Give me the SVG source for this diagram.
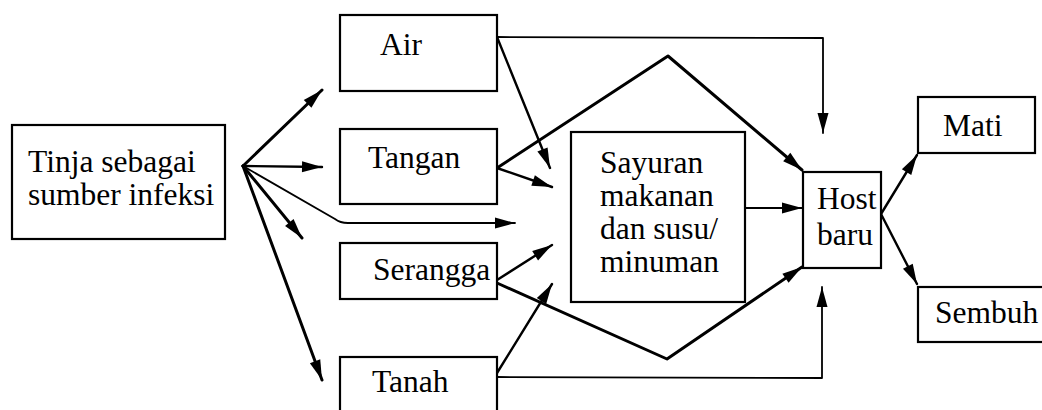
<svg xmlns="http://www.w3.org/2000/svg" width="1042" height="410" viewBox="0 0 1042 410">
<style>
.box{fill:#fff;stroke:#000;stroke-width:2.2}
.t{font-family:'Liberation Serif','Times New Roman','DejaVu Serif',serif;font-size:31.5px;fill:#000}
.c{fill:none;stroke:#000;stroke-linecap:round;stroke-linejoin:round}
.w3{stroke-width:3}
.w2{stroke-width:2.4}
.w1{stroke-width:1.8}
</style>
<defs>
<marker id="ah" markerUnits="userSpaceOnUse" markerWidth="20" markerHeight="11" refX="20" refY="5.5" orient="auto" overflow="visible">
<path d="M0,0 L20,5.5 L0,11 z" fill="#000"/>
</marker>
</defs>
<rect x="0" y="0" width="1042" height="410" fill="#fff"/>
<g id="connectors">
<path class="c w3" d="M243,166 L322,90" marker-end="url(#ah)"/>
<path class="c w2" d="M243,166 L322,167" marker-end="url(#ah)"/>
<path class="c w1" d="M243,166 L335,219 Q340,223 348,223 L515,223" marker-end="url(#ah)"/>
<path class="c w3" d="M243,166 L302,238" marker-end="url(#ah)"/>
<path class="c w3" d="M243,166 L322,380" marker-end="url(#ah)"/>
<path class="c w1" d="M497,37 L823,38 L823,133" marker-end="url(#ah)"/>
<path class="c w2" d="M497,37 L550,168" marker-end="url(#ah)"/>
<path class="c w2" d="M497,168 L552,187" marker-end="url(#ah)"/>
<path class="c w3" d="M497,168 L668,56 L802,170" marker-end="url(#ah)"/>
<path class="c w2" d="M497,280 L552,245" marker-end="url(#ah)"/>
<path class="c w3" d="M497,283 L667,359 L802,267" marker-end="url(#ah)"/>
<path class="c w2" d="M497,373 L552,284" marker-end="url(#ah)"/>
<path class="c w1" d="M497,377 L822,378 L822,287" marker-end="url(#ah)"/>
<path class="c w1" d="M745,208 L802,208" marker-end="url(#ah)"/>
<path class="c w2" d="M881,214 L917,155" marker-end="url(#ah)"/>
<path class="c w2" d="M881,214 L917,284" marker-end="url(#ah)"/>
</g>
<g id="tinja">
<rect class="box" x="12" y="125" width="213" height="114"/>
<text class="t" x="28" y="172">Tinja sebagai</text>
<text class="t" x="28" y="205">sumber infeksi</text>
</g>
<g id="air">
<rect class="box" x="340" y="15" width="157" height="76"/>
<text class="t" x="380" y="55">Air</text>
</g>
<g id="tangan">
<rect class="box" x="340" y="129" width="157" height="75"/>
<text class="t" x="368" y="168">Tangan</text>
</g>
<g id="serangga">
<rect class="box" x="340" y="243" width="157" height="56"/>
<text class="t" x="373" y="280">Serangga</text>
</g>
<g id="tanah">
<rect class="box" x="340" y="357" width="157" height="70"/>
<text class="t" x="372" y="392">Tanah</text>
</g>
<g id="sayuran">
<rect class="box" x="571" y="132" width="174" height="170"/>
<text class="t" x="600" y="173">Sayuran</text>
<text class="t" x="600" y="206">makanan</text>
<text class="t" x="600" y="239">dan susu/</text>
<text class="t" x="600" y="272">minuman</text>
</g>
<g id="host">
<rect class="box" x="803" y="172" width="78" height="96"/>
<text class="t" x="817" y="209">Host</text>
<text class="t" x="817" y="245">baru</text>
</g>
<g id="mati">
<rect class="box" x="918" y="97" width="117" height="56"/>
<text class="t" x="943" y="136">Mati</text>
</g>
<g id="sembuh">
<rect class="box" x="918" y="287" width="130" height="55"/>
<text class="t" x="935" y="323">Sembuh</text>
</g>
</svg>
